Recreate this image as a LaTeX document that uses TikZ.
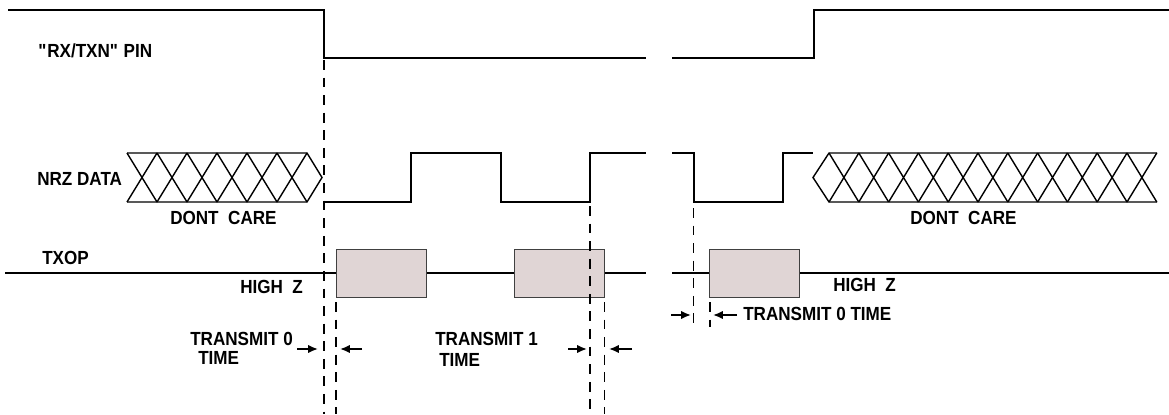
\documentclass[tikz,border=0pt]{standalone}
\usepackage{fontspec}
\setmainfont{Liberation Sans}[FakeStretch=0.9]
\usetikzlibrary{arrows.meta}

\begin{document}
\begin{tikzpicture}[x=0.025cm, y=-0.025cm,
    signal/.style={line width=1.5pt},
    hatch/.style={line width=1pt},
    guide/.style={line width=1.4pt, dash pattern=on 7pt off 5.5pt},
    pulse/.style={draw=black!75, line width=0.7pt, fill=pulsefill},
    dimarrow/.style={line width=1.3pt, -{Latex[length=7pt,width=6pt]}},
    lbl/.style={anchor=west, inner sep=0pt, font=\bfseries\fontsize{13.5}{15}\selectfont}]
    \definecolor{pulsefill}{RGB}{224,213,213}
    \useasboundingbox (0,0) rectangle (1169,414);

    % Labels
    \node[lbl] (pinlbl) at (38,51) {\textquotedbl RX/TXN\textquotedbl{} PIN};
    \node[lbl] (nrzlbl) at (37,179) {NRZ DATA};
    \node[lbl] (txoplbl) at (42,258) {TXOP};
    \node[lbl] (dcleft) at (170,218) {DONT\ \ CARE};
    \node[lbl] (dcright) at (910,218) {DONT\ \ CARE};
    \node[lbl] (hzleft) at (240,287) {HIGH\ \ Z};
    \node[lbl] (hzright) at (833,285) {HIGH\ \ Z};
    \node[lbl] (tx0) at (190,339) {TRANSMIT 0};
    \node[lbl] (tx0time) at (198,358) {TIME};
    \node[lbl] (tx1) at (435,339) {TRANSMIT 1};
    \node[lbl] (tx1time) at (439,360) {TIME};
    \node[lbl] (tx0right) at (743,314) {TRANSMIT 0 TIME};

    % RX/TXN pin
    \draw[signal] (8,10) -| (324,58) -- (646,58);
    \draw[signal] (672,58) -| (814,10) -- (1169,10);

    % NRZ data
    \draw[signal] (323,202) -- (411,202) |- (501,153) |- (590,202) |- (646,153);
    \draw[signal] (672,153) -| (694,202) -| (783,153) -- (813,153);

    % Dont care areas
    \draw[hatch] (127,153) -- (307,153) -- (322,177.5) -- (307,202) -- (127,202);
    \foreach \i in {0,...,5}
        \draw[hatch] (127+30*\i,153) -- ++(30,49) (127+30*\i,202) -- ++(30,-49);
    \draw[hatch] (1157,153) -- (829,153) -- (813,177.5) -- (829,202) -- (1157,202);
    \foreach \i in {0,...,10}
        \draw[hatch] (829+29.8*\i,153) -- ++(29.8,49) (829+29.8*\i,202) -- ++(29.8,-49);

    % TXOP
    \draw[line width=1pt] (5,273) -- (646,273);
    \draw[line width=1pt] (672,273) -- (1169,273);
    \draw[pulse] (336,249) rectangle (426,297);
    \draw[pulse] (514,249) rectangle (604,297);
    \draw[pulse] (709,249) rectangle (799,297);

    % Timing guides
    \draw[guide] (324,60) -- (324,414);
    \draw[guide] (336,302) -- (336,414);
    \draw[guide] (590,206) -- (590,414);
    \draw[guide] (604.5,302) -- (604.5,414);
    \draw[guide] (693.5,208) -- (693.5,327);
    \draw[guide] (710,302) -- (710,327);

    % Arrows
    \draw[dimarrow] (297,349) -- (318,349);
    \draw[dimarrow] (362,349) -- (340,349);
    \draw[dimarrow] (568,349) -- (587,349);
    \draw[dimarrow] (632,349) -- (609,349);
    \draw[dimarrow] (671,315) -- (691,315);
    \draw[dimarrow] (737,315) -- (713,315);
\end{tikzpicture}
\end{document}
